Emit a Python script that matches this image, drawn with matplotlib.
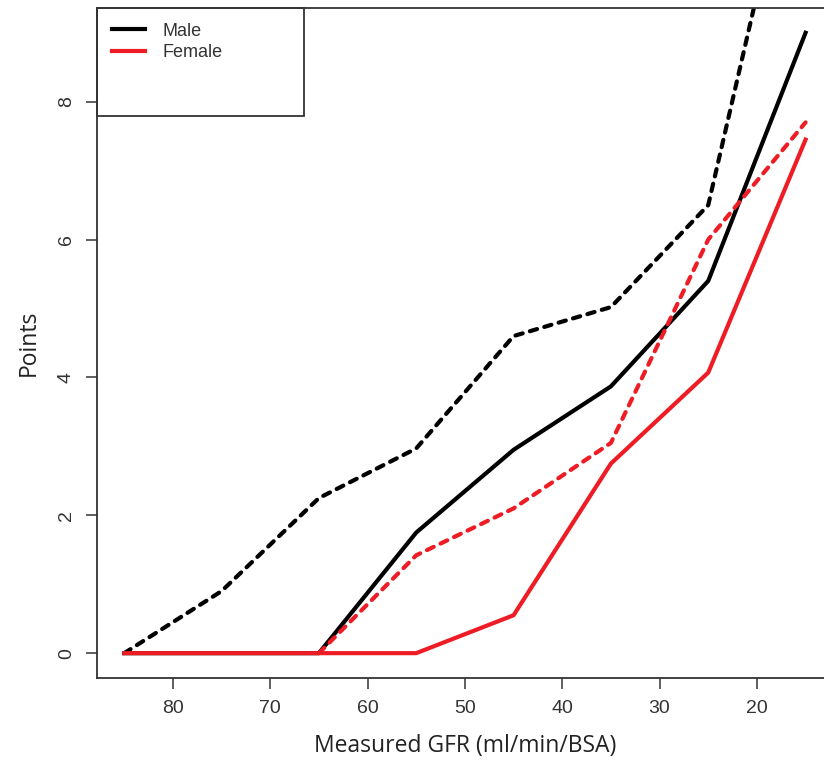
import numpy as np
import matplotlib
matplotlib.use("Agg")
import matplotlib.pyplot as plt
from matplotlib.lines import Line2D
from matplotlib.patches import Rectangle

# GFR midpoints (ml/min/BSA)
gfr = [85, 75, 65, 55, 45, 35, 25, 15]

# points by sex; solid and dashed curves
male_solid = [0, 0, 0, 1.75, 2.95, 3.87, 5.4, 9.0]
male_dash = [0, 0.9, 2.25, 2.97, 4.6, 5.02, 6.5, 12.6]
female_solid = [0, 0, 0, 0, 0.55, 2.75, 4.07, 7.45]
female_dash = [0, 0, 0, 1.42, 2.1, 3.05, 6.0, 7.7]

xticks = [80, 70, 60, 50, 40, 30, 20]
yticks = [0, 2, 4, 6, 8]

fig = plt.figure(figsize=(8.24, 7.64), dpi=100)
ax = fig.add_axes([0.1177, 0.1126, 0.893, 0.877])

lw = 3.0
red = "#ee1c24"
dash = (1.8, 1.8)
ax.plot(gfr, male_dash, color="black", lw=lw, linestyle=(0, dash), dash_capstyle="round")
ax.plot(gfr, male_solid, color="black", lw=lw)
ax.plot(gfr[2:], female_dash[2:], color=red, lw=lw, linestyle=(0, dash), dash_capstyle="round")
ax.plot(gfr, female_solid, color=red, lw=lw)

ax.set_xlim(87.8, 12.2)
ax.set_ylim(-0.36, 9.36)
ax.set_xticks(xticks)
ax.set_yticks(yticks)

tick_font = dict(family=["Liberation Sans", "DejaVu Sans"], size=14)
ax.set_xticklabels([str(t) for t in xticks], fontdict=tick_font, color="#333333")
ax.set_yticklabels([str(t) for t in yticks], fontdict=tick_font, color="#333333",
                   rotation=90, va="center")
ax.tick_params(direction="out", length=8, width=1.2, color="#444444", pad=8)

for s in ["left", "bottom", "top"]:
    ax.spines[s].set_linewidth(1.3)
    ax.spines[s].set_color("#333333")
ax.spines["right"].set_visible(False)

lab_font = dict(family=["Open Sans", "DejaVu Sans"], size=16.5)
ax.set_xlabel("Measured GFR (ml/min/BSA)", fontdict=lab_font, color="#222222", labelpad=12)
ax.set_ylabel("Points", fontdict=lab_font, color="#222222", labelpad=12)

# legend box (R-style, with empty room below the entries)
ax.add_patch(Rectangle((0, 1 - 0.161), 0.2813, 0.161, transform=ax.transAxes,
                       fill=False, edgecolor="#333333", lw=1.3, clip_on=False, zorder=5))
handles = [Line2D([], [], color="black", lw=lw), Line2D([], [], color=red, lw=lw)]
leg = ax.legend(handles, ["Male", "Female"], loc="upper left",
                bbox_to_anchor=(0.013, 0.986), borderaxespad=0, frameon=False,
                prop=dict(family=["Liberation Sans", "DejaVu Sans"], size=13),
                handlelength=1.85, borderpad=0.3, labelspacing=0.25, handletextpad=0.95)
for t in leg.get_texts():
    t.set_color("#333333")

plt.savefig("out.png", dpi=100)
